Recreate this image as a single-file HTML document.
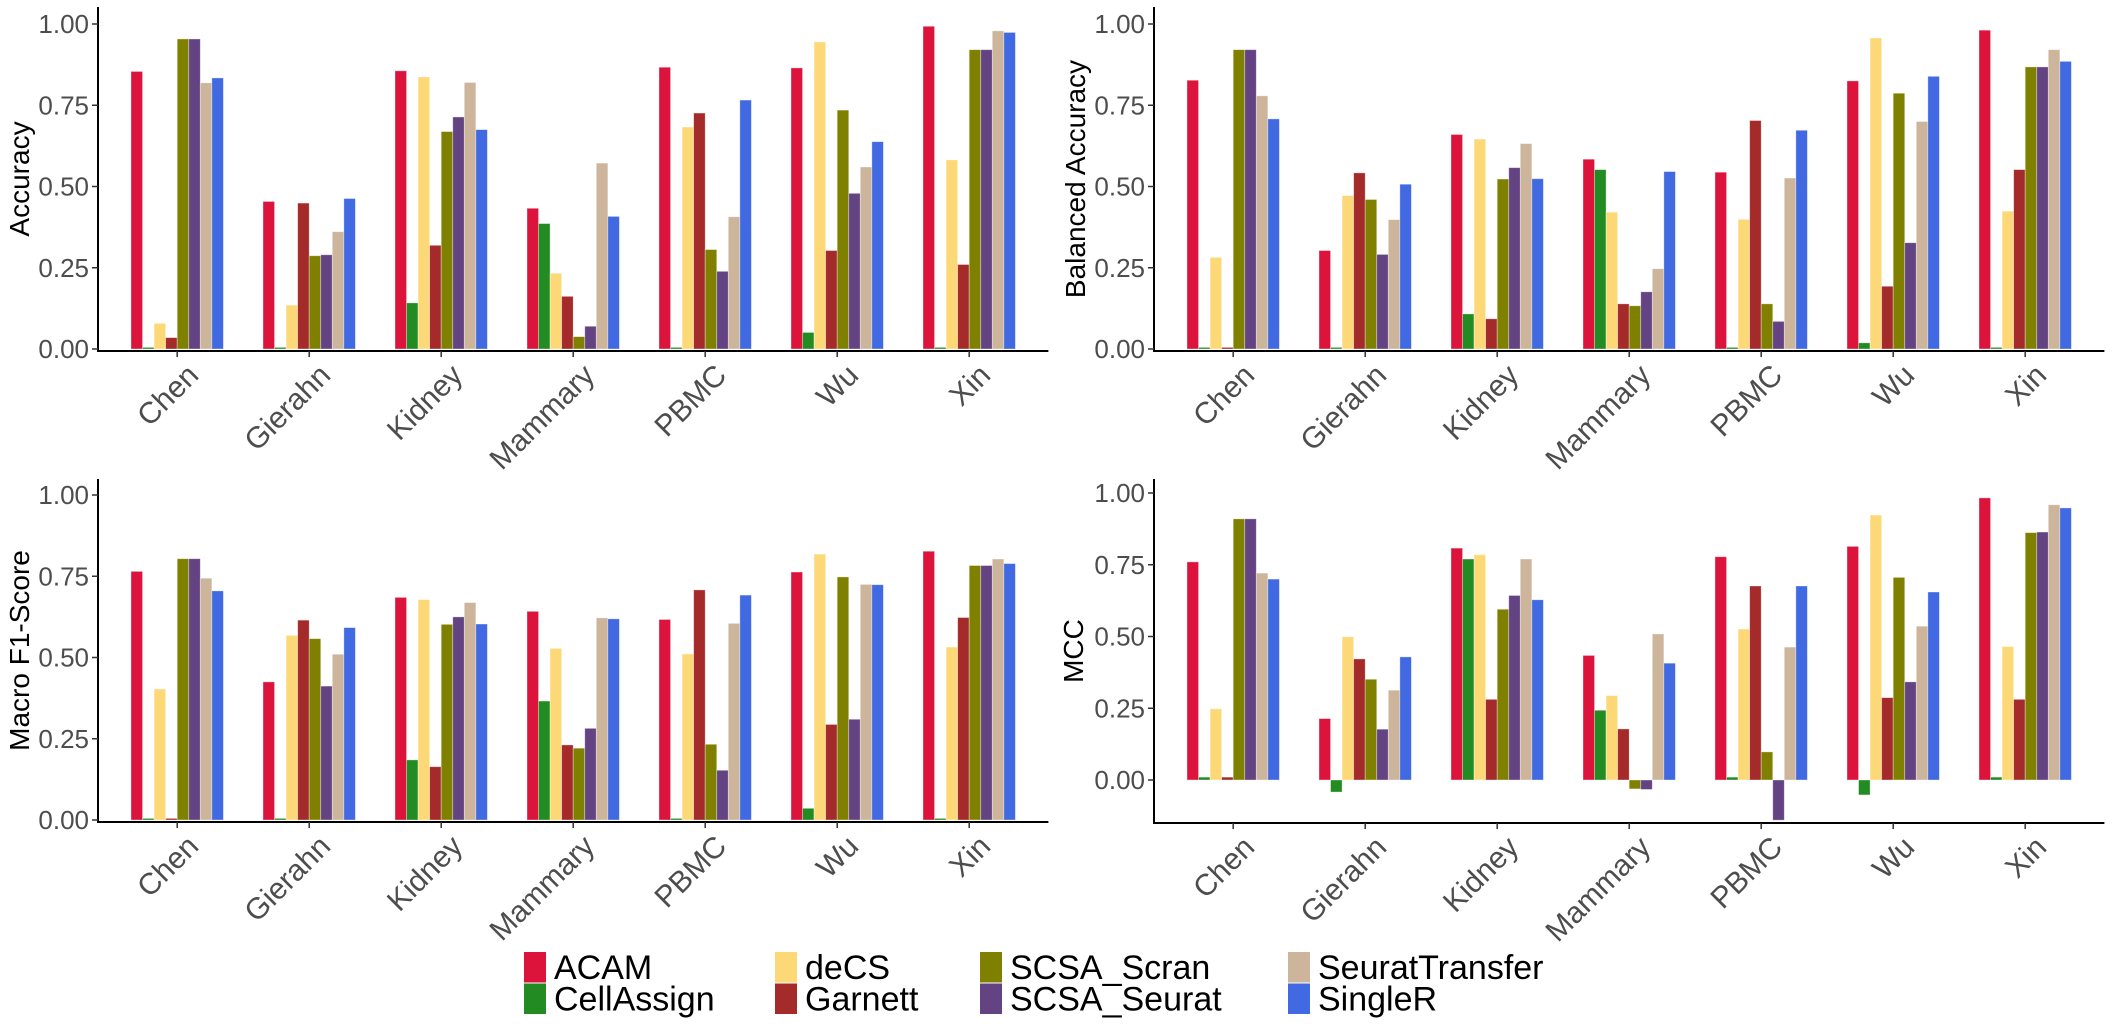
<!DOCTYPE html>
<html><head><meta charset="utf-8">
<style>
html,body{margin:0;padding:0;background:#fff;}
svg{display:block;font-family:"Liberation Sans",Arial,sans-serif;}
</style></head>
<body>
<svg id="chart" width="2112" height="1024" viewBox="0 0 2112 1024" xmlns="http://www.w3.org/2000/svg"></svg>
<script>
const categories = ["Chen","Gierahn","Kidney","Mammary","PBMC","Wu","Xin"];
const methods = ["ACAM","CellAssign","deCS","Garnett","SCSA_Scran","SCSA_Seurat","SeuratTransfer","SingleR"];
const colors = ["#DC143C","#228B22","#FDD877","#A52A2A","#808000","#644382","#CCB59B","#4169E1"];
// values per method, per category (Chen..Xin)
const accuracy = [
 [0.854,0.454,0.856,0.433,0.867,0.865,0.993],
 [0.005,0.005,0.142,0.386,0.005,0.051,0.005],
 [0.079,0.135,0.837,0.233,0.683,0.945,0.582],
 [0.035,0.449,0.319,0.162,0.726,0.303,0.260],
 [0.954,0.287,0.669,0.038,0.306,0.735,0.921],
 [0.954,0.290,0.714,0.070,0.239,0.479,0.921],
 [0.819,0.361,0.820,0.572,0.407,0.560,0.979],
 [0.834,0.463,0.675,0.408,0.766,0.638,0.974]
];
const balancedAccuracy = [
 [0.827,0.303,0.660,0.584,0.544,0.825,0.981],
 [0.005,0.005,0.108,0.552,0.005,0.019,0.005],
 [0.282,0.472,0.646,0.421,0.399,0.957,0.424],
 [0.005,0.542,0.093,0.139,0.703,0.193,0.552],
 [0.921,0.460,0.523,0.133,0.139,0.787,0.868],
 [0.921,0.291,0.558,0.176,0.085,0.327,0.868],
 [0.779,0.398,0.632,0.247,0.526,0.700,0.921],
 [0.708,0.507,0.524,0.546,0.673,0.839,0.885]
];
const macroF1 = [
 [0.765,0.425,0.685,0.642,0.617,0.763,0.827],
 [0.005,0.005,0.185,0.366,0.005,0.036,0.005],
 [0.403,0.568,0.678,0.528,0.511,0.818,0.532],
 [0.005,0.615,0.164,0.231,0.708,0.294,0.623],
 [0.804,0.558,0.602,0.221,0.233,0.748,0.783],
 [0.804,0.412,0.625,0.282,0.153,0.310,0.783],
 [0.744,0.510,0.669,0.622,0.605,0.725,0.803],
 [0.705,0.592,0.603,0.619,0.692,0.724,0.789]
];
const mcc = [
 [0.760,0.214,0.808,0.434,0.778,0.814,0.983],
 [0.010,-0.042,0.770,0.243,0.010,-0.052,0.010],
 [0.248,0.499,0.785,0.294,0.526,0.923,0.465],
 [0.010,0.422,0.281,0.178,0.676,0.287,0.281],
 [0.910,0.351,0.595,-0.031,0.098,0.706,0.862],
 [0.910,0.177,0.643,-0.033,-0.140,0.342,0.864],
 [0.721,0.313,0.770,0.509,0.463,0.536,0.959],
 [0.700,0.429,0.628,0.407,0.676,0.655,0.948]
];
const yTicks = [0,0.25,0.5,0.75,1];
const yTickLabels = ["0.00","0.25","0.50","0.75","1.00"];

const svg = document.getElementById('chart');
const NS = "http://www.w3.org/2000/svg";
function mk(tag, attrs, parent){
  const e = document.createElementNS(NS, tag);
  for (const k in attrs) e.setAttribute(k, attrs[k]);
  (parent||svg).appendChild(e);
  return e;
}
const panels = [
 {key:"accuracy", title:"Accuracy", data:accuracy, ax:98, top:7, y1:24, y0:349, xaxis:351, tx:19},
 {key:"balanced-accuracy", title:"Balanced Accuracy", data:balancedAccuracy, ax:1154, top:7, y1:24, y0:349, xaxis:351, tx:1075},
 {key:"macro-f1", title:"Macro F1-Score", data:macroF1, ax:98, top:479, y1:495, y0:820, xaxis:822, tx:19},
 {key:"mcc", title:"MCC", data:mcc, ax:1154, top:479, y1:493, y0:780, xaxis:823, tx:1073}
];
const step = 132;
panels.forEach(p=>{
  const g = mk('g',{});
  
  
  const yScale = v => p.y0 - v*(p.y0-p.y1);
  const xScale = i => p.ax + step*(0.6+i);
  const right = p.ax + step*7.2;
  const bw = step*0.7/8;
  p.data.forEach((series, m)=>{
    series.forEach((v, i)=>{
      const x = xScale(i) - step*0.35 + m*bw;
      const ya = yScale(Math.max(v,0)), yb = yScale(Math.min(v,0));
      const r = mk('rect',{x:x.toFixed(2), y:ya.toFixed(2), width:bw.toFixed(2), height:Math.max(yb-ya,0.5).toFixed(2), fill:colors[m], stroke:"rgba(255,255,255,0.45)", 'stroke-width':0.8}, g);
      
      
    });
  });
  const yl = mk('line',{x1:p.ax, y1:p.top, x2:p.ax, y2:p.xaxis+1, stroke:"#000", 'stroke-width':2}, g);
  
  
  const xl = mk('line',{x1:p.ax-1, y1:p.xaxis, x2:right, y2:p.xaxis, stroke:"#000", 'stroke-width':2}, g);
  
  
  yTicks.forEach((t,k)=>{
    const y = yScale(t);
    mk('line',{x1:p.ax-6, y1:y, x2:p.ax, y2:y, stroke:"#333", 'stroke-width':1.5}, g);
    const tl = mk('text',{x:p.ax-9, y:y+9, 'text-anchor':'end', 'font-size':26, fill:"#4d4d4d"}, g);
    tl.textContent = yTickLabels[k];
    
    
  });
  categories.forEach((c,i)=>{
    const x = xScale(i);
    mk('line',{x1:x, y1:p.xaxis, x2:x, y2:p.xaxis+6, stroke:"#333", 'stroke-width':1.5}, g);
    const lx = x+23, ly = p.xaxis+26;
    const tl = mk('text',{x:lx, y:ly, 'text-anchor':'end', 'font-size':30, fill:"#4d4d4d", transform:`rotate(-45 ${lx} ${ly})`}, g);
    tl.textContent = c;
    
    
  });
  const cy = (p.top + p.xaxis)/2;
  const tt = mk('text',{x:p.tx+10, y:cy, 'text-anchor':'middle', 'font-size':28, fill:"#000", transform:`rotate(-90 ${p.tx+10} ${cy})`}, g);
  tt.textContent = p.title;
  
  
});
const legCols = [524, 775, 980, 1288];
const lg = mk('g',{});


methods.forEach((m,k)=>{
  const col = Math.floor(k/2), row = k%2;
  const x = legCols[col], y = 952 + row*31.5;
  const e = mk('g',{}, lg);
  
  
  mk('rect',{x:x, y:y, width:22, height:30.5, fill:colors[k]}, e);
  const t = mk('text',{x:x+30, y:y+27, 'font-size':34, fill:"#000"}, e);
  t.textContent = m;
});
</script>
</body></html>
